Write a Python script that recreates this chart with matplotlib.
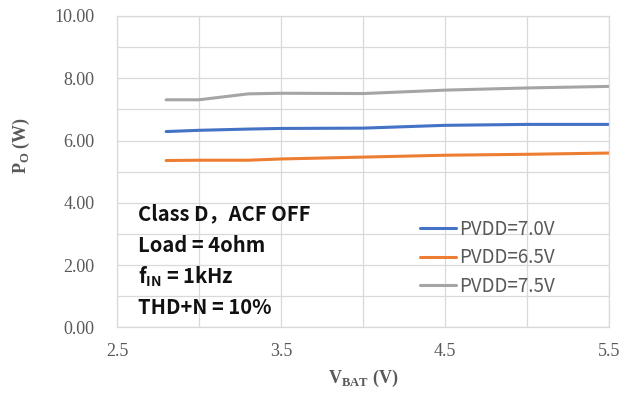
import matplotlib
matplotlib.use("Agg")
import matplotlib.pyplot as plt

# 데이터
vbat = [2.8, 3.0, 3.3, 3.5, 4.0, 4.5, 5.0, 5.5]
po_70 = [6.29, 6.33, 6.37, 6.39, 6.40, 6.49, 6.52, 6.52]
po_65 = [5.36, 5.37, 5.37, 5.41, 5.47, 5.53, 5.56, 5.60]
po_75 = [7.31, 7.31, 7.50, 7.52, 7.51, 7.62, 7.69, 7.74]
series = [("PVDD=7.0V", po_70, "#4472C4"),
          ("PVDD=6.5V", po_65, "#ED7D31"),
          ("PVDD=7.5V", po_75, "#A5A5A5")]
notes = ["Class D\uff0cACF OFF", "Load = 4ohm", "f$_{\\mathregular{IN}}$ = 1kHz", "THD+N = 10%"]

serif = ["Liberation Serif", "DejaVu Serif"]
sans = ["Noto Sans CJK SC", "DejaVu Sans"]
grid_c = "#D9D9D9"
tick_c = "#595959"

fig = plt.figure(figsize=(6.33, 3.93), dpi=100)
ax = fig.add_axes([0.1848, 0.1667, 0.7772, 0.7926])

for label, vals, color in series:
    ax.plot(vbat, vals, color=color, linewidth=2.2, label=label, solid_capstyle="round")

ax.set_xlim(2.5, 5.5)
ax.set_ylim(0, 10)
ax.set_xticks([2.5, 3.5, 4.5, 5.5])
ax.set_xticks([3.0, 4.0, 5.0], minor=True)
ax.set_yticks([0, 2, 4, 6, 8, 10])
ax.set_yticks([1, 3, 5, 7, 9], minor=True)
ax.set_yticklabels([f"{v:.2f}" for v in [0, 2, 4, 6, 8, 10]])
ax.grid(True, which="both", color=grid_c, linewidth=0.9)
ax.set_axisbelow(True)
ax.tick_params(which="both", length=0)
ax.tick_params(axis="x", pad=11)
ax.tick_params(axis="y", pad=16)
for lab in ax.get_xticklabels() + ax.get_yticklabels():
    lab.set_family(serif)
    lab.set_fontsize(13)
    lab.set_color(tick_c)
for s in ax.spines.values():
    s.set_color(grid_c)
    s.set_linewidth(0.9)

ax.set_xlabel("V$_{\\mathregular{BAT}}$ (V)", family=serif, fontsize=13, fontweight="bold",
              color=tick_c)
ax.xaxis.set_label_coords(0.5, -0.165)
ax.xaxis.label.set_va("center")
ax.set_ylabel("P$_{\\mathregular{O}}$ (W)", family=serif, fontsize=13, fontweight="bold",
              color=tick_c)
ax.yaxis.set_label_coords(-0.195, 0.586)
ax.yaxis.label.set_va("center")

note_y = [0.364, 0.263, 0.163, 0.065]
for t, y in zip(notes, note_y):
    ax.text(0.043, y, t, transform=ax.transAxes, family=sans,
            fontsize=14.5, fontweight="bold", color="#111111", va="center")

leg = ax.legend(loc="center left", bbox_to_anchor=(0.616, 0.224), frameon=False,
                borderaxespad=0, borderpad=0,
                handlelength=1.9, handletextpad=0.2, labelspacing=0.4,
                prop={"family": sans, "size": 13.5})
for t in leg.get_texts():
    t.set_color(tick_c)

fig.savefig("out.png", dpi=100)
